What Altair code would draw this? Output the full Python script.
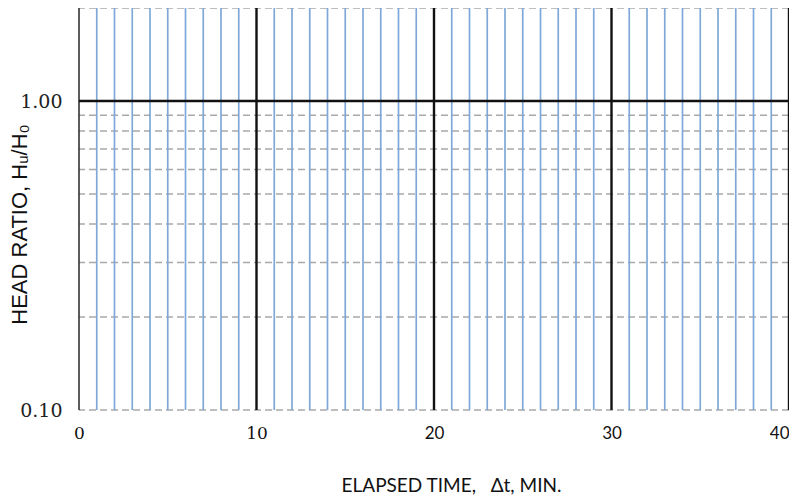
import altair as alt
import pandas as pd

# ---- data ----
minor_minutes = [1, 2, 3, 4, 5, 6, 7, 8, 9, 11, 12, 13, 14, 15, 16, 17, 18, 19,
                 21, 22, 23, 24, 25, 26, 27, 28, 29, 31, 32, 33, 34, 35, 36, 37, 38, 39]
major_minutes = [10, 20, 30, 40]
left_edge = [0]
x_tick_values = [0, 10, 20, 30, 40]
ratio_minor = [0.1, 0.2, 0.3, 0.4, 0.5, 0.6, 0.7, 0.8, 0.9, 2.0]
ratio_major = [1.0]
y_tick_values = [0.1, 1.0]

SERIF = "DejaVu Serif"

x_scale = alt.Scale(domain=[0, 40], nice=False, zero=False)
y_scale = alt.Scale(type="log", domain=[0.1, 2.0], nice=False)

x_axis = alt.Axis(
    values=x_tick_values, title="ELAPSED TIME,\u00a0\u00a0\u00a0Δt, MIN.",
    labelAlign=alt.condition("datum.value > 35", alt.value("right"), alt.value("center")),
    labelFont=alt.condition("datum.value < 15", alt.value(SERIF), alt.value("Lato")),
)
y_axis = alt.Axis(values=y_tick_values, format=".2f", title="HEAD RATIO, Hᵤ/H₀")

df_minor = pd.DataFrame({"t": minor_minutes})
df_major = pd.DataFrame({"t": major_minutes})
df_left = pd.DataFrame({"t": left_edge})
df_rmin = pd.DataFrame({"r": ratio_minor})
df_rmaj = pd.DataFrame({"r": ratio_major})

h_minor = alt.Chart(df_rmin).mark_rule(color="#a9a9a9", strokeWidth=1.5, strokeDash=[7, 4]).encode(
    y=alt.Y("r:Q", scale=y_scale, axis=y_axis))
v_minor = alt.Chart(df_minor).mark_rule(color="#7fa8d8", strokeWidth=1.7).encode(
    x=alt.X("t:Q", scale=x_scale, axis=x_axis))
v_left = alt.Chart(df_left).mark_rule(color="#333", strokeWidth=1.6).encode(
    x=alt.X("t:Q", scale=x_scale, axis=x_axis))
v_major = alt.Chart(df_major).mark_rule(color="#111", strokeWidth=2.4).encode(
    x=alt.X("t:Q", scale=x_scale, axis=x_axis))
h_major = alt.Chart(df_rmaj).mark_rule(color="#111", strokeWidth=2.4).encode(
    y=alt.Y("r:Q", scale=y_scale, axis=y_axis))

chart = alt.layer(h_minor, v_minor, v_left, v_major, h_major).properties(
    width=710, height=402,
    autosize=alt.AutoSizeParams(type="none"),
    padding={"left": 71, "top": 0, "right": 0, "bottom": 86},
    background="white",
).configure_view(stroke=None).configure_axis(
    grid=False, ticks=False, domain=False,
).configure_axisX(
    labelFlush=False, labelPadding=15, labelFontSize=17, labelColor="#111",
    titleFont="Lato", titleFontSize=19, titleFontWeight="normal", titleColor="#111",
    titleX=372, titleY=75, titleBaseline="middle", titleAnchor="start", titleAlign="center",
).configure_axisY(
    labelPadding=17, labelFontSize=19, labelFont=SERIF, labelColor="#222",
    titleFont="Liberation Sans", titleFontSize=22, titleFontWeight="normal",
    titleColor="#111", titleAngle=-90, titleX=-60, titleY=216,
    titleAlign="center", titleBaseline="middle",
)

chart.save("out.html", embed_options={"renderer": "svg", "actions": False})
